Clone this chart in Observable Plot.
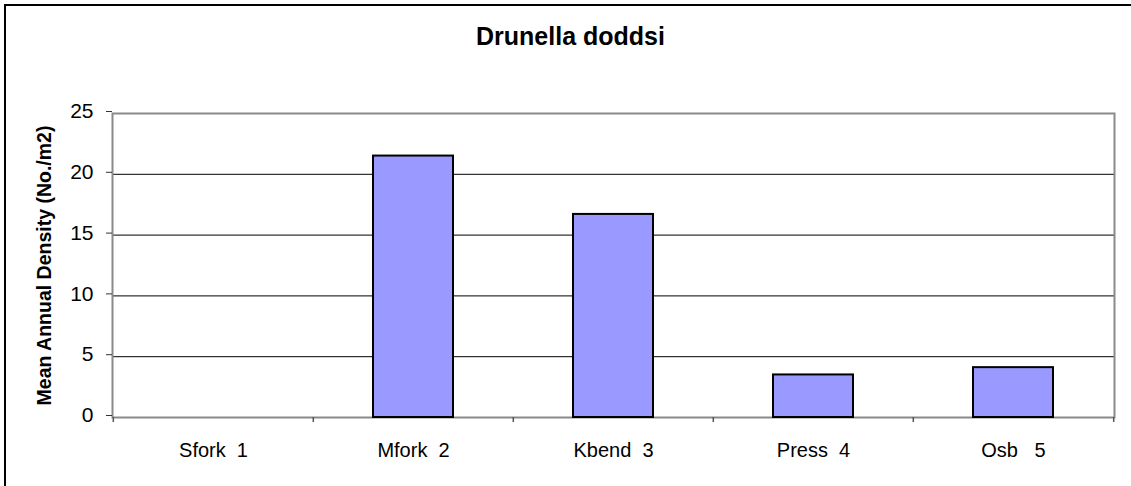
<!DOCTYPE html>
<html>
<head>
<meta charset="utf-8">
<script src="https://cdn.jsdelivr.net/npm/d3@7"></script>
<script src="https://cdn.jsdelivr.net/npm/@observablehq/plot@0.6"></script>
<style>
  html, body { margin: 0; padding: 0; background: #fff; }
  #chart { position: relative; width: 1131px; height: 486px; overflow: hidden;
           font-family: "Liberation Sans", Arial, sans-serif; color: #000; }
  #border { position: absolute; left: 4px; top: 4px; width: 1300px; height: 700px;
            border-top: 2px solid #000; border-left: 2px solid #000; }
  #title { position: absolute; left: 5px; top: 24px; width: 1131px; text-align: center;
           font-weight: bold; font-size: 25px; line-height: 25px; }
  #chart svg { position: absolute; left: 0; top: 0; }
  svg text { white-space: pre; }
</style>
</head>
<body>
<div id="chart"><div id="border"></div><div id="title"></div></div>
<script>
// Mean annual density per site
const sites = ["Sfork  1", "Mfork  2", "Kbend  3", "Press  4", "Osb   5"];
const density = [0, 21.5, 16.7, 3.5, 4.1];
const yTicks = [0, 5, 10, 15, 20, 25];
const gridTicks = [5, 10, 15, 20];
const title = "Drunella doddsi";
const yLabel = "Mean Annual Density (No./m2)";

const rows = sites.map((site, i) => ({site, density: density[i]}));

const width = 1131, height = 486;
const margin = {top: 113, right: 17, bottom: 69, left: 112};
const xOptions = {domain: sites, paddingInner: 0.6, paddingOuter: 0.3};

// band step, used to put category tick marks on the band boundaries
const xScale = Plot.scale({x: {type: "band", ...xOptions, range: [margin.left, width - margin.right]}});
const step = xScale.step;

document.getElementById("title").textContent = title;

const chart = Plot.plot({
  width, height,
  marginTop: margin.top, marginRight: margin.right,
  marginBottom: margin.bottom, marginLeft: margin.left,
  style: {fontFamily: "\"Liberation Sans\", Arial, sans-serif", background: "transparent", color: "#000"},
  x: {...xOptions, label: null},
  y: {domain: [0, 25], label: null},
  marks: [
    Plot.ruleY(gridTicks, {stroke: "#000", strokeWidth: 1}),
    Plot.frame({stroke: "#8a8a8a", strokeWidth: 2}),
    Plot.axisY({ticks: yTicks, tickSize: 6, tickPadding: 13, fontSize: 21, dy: -2, label: null, stroke: "#333"}),
    Plot.axisX({tickSize: 0, tickPadding: 25, fontSize: 20, label: null}),
    Plot.ruleX(sites, {x: d => d, y1: 0, y2: 0, dx: -step / 2, insetBottom: -5, stroke: "#555", strokeWidth: 1.5}),
    Plot.ruleX(sites.slice(-1), {x: d => d, y1: 0, y2: 0, dx: step / 2, insetBottom: -5, stroke: "#555", strokeWidth: 1.5}),
    Plot.barY(rows, {x: "site", y: "density", filter: d => d.density > 0,
                     fill: "#9999ff", stroke: "#000", strokeWidth: 2}),
    Plot.text([yLabel], {frameAnchor: "left", dx: -68, rotate: -90, fontWeight: "bold",
                         fontSize: 19.5, textAnchor: "middle", lineAnchor: "middle"})
  ]
});
document.getElementById("chart").appendChild(chart);
</script>
</body>
</html>
